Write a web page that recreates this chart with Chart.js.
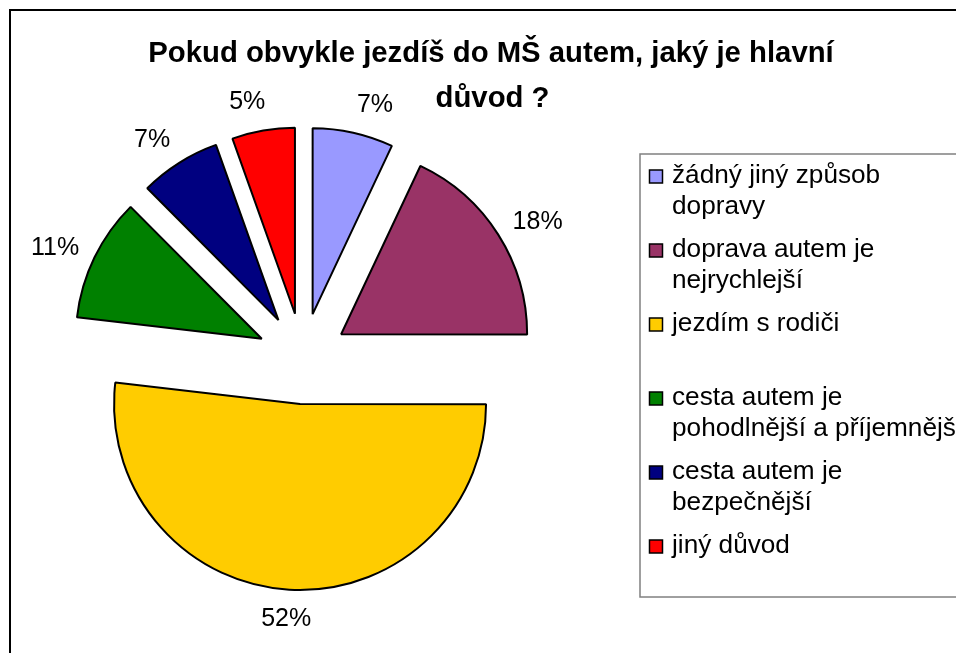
<!DOCTYPE html>
<html>
<head>
<meta charset="utf-8">
<script src="https://cdn.jsdelivr.net/npm/chart.js@4/dist/chart.umd.min.js"></script>
<style>
  html, body { margin: 0; padding: 0; background: #fff; }
  #wrap { position: relative; width: 956px; height: 653px; }
</style>
</head>
<body>
<div id="wrap"><canvas id="c" width="956" height="653"></canvas></div>
<script>
// ---- data ----
const titleLines = ["Pokud obvykle jezdíš do MŠ autem, jaký je hlavní", "důvod ?"];
const categories = [
  ["žádný jiný způsob", "dopravy"],
  ["doprava autem je", "nejrychlejší"],
  ["jezdím s rodiči"],
  ["cesta autem je", "pohodlnější a příjemnější"],
  ["cesta autem je", "bezpečnější"],
  ["jiný důvod"]
];
// shares (labels show them rounded)
const values = [7.0, 18.0, 51.8, 10.7, 7.0, 5.45];
const colors = ["#9999FF", "#993366", "#FFCC00", "#008000", "#000080", "#FF0000"];

const FONT = "'Liberation Sans', Arial, sans-serif";
const EXPLODE = 45.5;
const RADIUS = 186;

const explodePlugin = {
  id: 'explode',
  afterDatasetUpdate(chart, args) {
    const meta = chart.getDatasetMeta(args.index);
    meta.data.forEach(arc => {
      const mid = (arc.startAngle + arc.endAngle) / 2;
      arc.x += Math.cos(mid) * EXPLODE;
      arc.y += Math.sin(mid) * EXPLODE;
    });
  }
};

const decorPlugin = {
  id: 'decor',
  afterDraw(chart) {
    const ctx = chart.ctx;
    ctx.save();
    // outer chart border
    ctx.strokeStyle = '#000';
    ctx.lineWidth = 2;
    ctx.strokeRect(10, 10, 1200, 1200);

    // title
    ctx.fillStyle = '#000';
    ctx.textAlign = 'center';
    ctx.textBaseline = 'alphabetic';
    ctx.font = 'bold 29.3px ' + FONT;
    ctx.fillText(titleLines[0], 491, 62);
    ctx.fillText(titleLines[1], 492.5, 107);

    // percentage labels
    const meta = chart.getDatasetMeta(0);
    const total = values.reduce((a, b) => a + b, 0);
    ctx.font = '25px ' + FONT;
    ctx.textBaseline = 'middle';
    meta.data.forEach((arc, i) => {
      const mid = (arc.startAngle + arc.endAngle) / 2;
      const dx = Math.cos(mid), dy = Math.sin(mid);
      const txt = Math.round(values[i] / total * 100) + '%';
      const w = ctx.measureText(txt).width;
      const h = 24;
      const d = arc.outerRadius + 17;
      const fx = Math.sign(dx) * Math.min(1, Math.pow(Math.abs(dx) / 0.2, 2));
      const ox = w / 2 * fx;
      const oy = h / 2 * dy * Math.abs(dy);
      ctx.fillText(txt, arc.x + dx * d + ox, arc.y + dy * d + oy);
    });

    // legend
    ctx.strokeStyle = '#808080';
    ctx.lineWidth = 1.5;
    ctx.strokeRect(640, 154, 400, 443);
    ctx.textAlign = 'left';
    ctx.textBaseline = 'alphabetic';
    ctx.font = '26.2px ' + FONT;
    categories.forEach((lines, i) => {
      const y = 176.5 + i * 74;
      ctx.fillStyle = colors[i];
      ctx.fillRect(649.5, y - 6.5, 13, 13);
      ctx.strokeStyle = '#000';
      ctx.lineWidth = 1.5;
      ctx.strokeRect(649.5, y - 6.5, 13, 13);
      ctx.fillStyle = '#000';
      lines.forEach((ln, j) => ctx.fillText(ln, 672, y + 6.5 + j * 31));
    });
    ctx.restore();
  }
};

new Chart(document.getElementById('c'), {
  type: 'pie',
  data: {
    labels: categories,
    datasets: [{
      data: values,
      backgroundColor: colors,
      borderColor: '#000',
      borderWidth: 2,
      hoverOffset: 0
    }]
  },
  options: {
    responsive: false,
    animation: false,
    radius: RADIUS,
    layout: { padding: { left: 0, right: 350.6, top: 64.2, bottom: 0 } },
    plugins: { legend: { display: false }, title: { display: false }, tooltip: { enabled: false } },
    events: []
  },
  plugins: [explodePlugin, decorPlugin]
});
</script>
</body>
</html>
